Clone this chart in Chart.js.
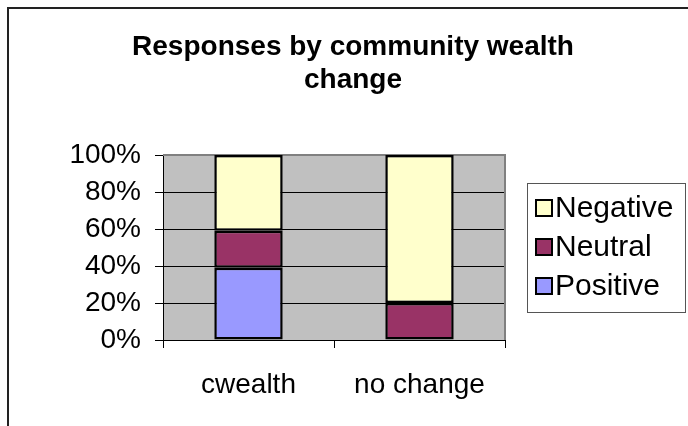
<!DOCTYPE html>
<html>
<head>
<meta charset="utf-8">
<script src="https://cdn.jsdelivr.net/npm/chart.js@4.4.1/dist/chart.umd.min.js"></script>
<style>
  html, body { margin: 0; padding: 0; background: #fff; }
  #wrap { width: 688px; height: 426px; position: relative; }
</style>
</head>
<body>
<div id="wrap"><canvas id="chart" width="688" height="426"></canvas></div>
<script>
// categories and stacked shares (percent of responses)
const categories = ['cwealth', 'no change'];
const positive = [39, 0];
const neutral = [20, 20];
const negative = [41, 80];
const yTicks = [0, 20, 40, 60, 80, 100];
const titleLines = ['Responses by community wealth', 'change'];

const FONT = '"Liberation Sans", Arial, sans-serif';

// gray plot background, outer frame, title and boxed legend
const excelLook = {
  id: 'excelLook',
  beforeDraw(chart) {
    const { ctx, chartArea: a } = chart;
    ctx.save();
    ctx.fillStyle = '#c0c0c0';
    ctx.fillRect(a.left, a.top, a.right - a.left, a.bottom - a.top);
    ctx.restore();
  },
  beforeDatasetsDraw(chart) {
    const { ctx, chartArea: a } = chart;
    ctx.save();
    ctx.strokeStyle = '#808080';
    ctx.lineWidth = 2;
    ctx.beginPath();
    ctx.moveTo(a.left, a.top);
    ctx.lineTo(a.right, a.top);
    ctx.lineTo(a.right, a.bottom);
    ctx.stroke();
    ctx.restore();
  },
  afterDraw(chart) {
    const ctx = chart.ctx;
    ctx.save();
    // outer frame
    ctx.strokeStyle = '#222';
    ctx.lineWidth = 2;
    ctx.beginPath();
    ctx.moveTo(8, 426);
    ctx.lineTo(8, 8);
    ctx.lineTo(688, 8);
    ctx.stroke();

    // title
    ctx.fillStyle = '#000';
    ctx.font = 'bold 28px ' + FONT;
    ctx.textAlign = 'center';
    ctx.textBaseline = 'alphabetic';
    titleLines.forEach((t, i) => ctx.fillText(t, 353, 55 + i * 33));

    // legend
    ctx.strokeStyle = '#555';
    ctx.lineWidth = 1;
    ctx.strokeRect(527.5, 183.5, 158, 129);
    ctx.font = '30px ' + FONT;
    ctx.textAlign = 'left';
    ctx.textBaseline = 'middle';
    const items = chart.data.datasets.slice().reverse();
    items.forEach((ds, i) => {
      const y = 208 + i * 39;
      ctx.fillStyle = ds.backgroundColor;
      ctx.fillRect(536, y - 8, 16, 16);
      ctx.strokeStyle = '#000';
      ctx.lineWidth = 2;
      ctx.strokeRect(536, y - 8, 16, 16);
      ctx.fillStyle = '#000';
      ctx.fillText(ds.label, 555, y + 1);
    });
    ctx.restore();
  }
};

const barStyle = { borderColor: '#000', borderWidth: 2.5, borderSkipped: false, barPercentage: 0.4, categoryPercentage: 1 };

new Chart(document.getElementById('chart'), {
  type: 'bar',
  data: {
    labels: categories,
    datasets: [
      { label: 'Positive', data: positive, backgroundColor: '#9999ff', ...barStyle },
      { label: 'Neutral', data: neutral, backgroundColor: '#993366', ...barStyle },
      { label: 'Negative', data: negative, backgroundColor: '#ffffcc', ...barStyle }
    ]
  },
  options: {
    responsive: false,
    animation: false,
    layout: { padding: { top: 155, right: 183, left: 0, bottom: 0 } },
    plugins: {
      legend: { display: false },
      title: { display: false },
      tooltip: { enabled: false }
    },
    scales: {
      x: {
        stacked: true,
        grid: { display: true, drawOnChartArea: false, drawTicks: true, tickLength: 8, color: '#000', offset: true },
        border: { display: true, color: '#000', width: 1 },
        ticks: { color: '#000', font: { family: FONT, size: 28 }, padding: 20, maxRotation: 0, autoSkip: false },
        afterFit(scale) { scale.height = 86; }
      },
      y: {
        stacked: true,
        min: 0,
        max: 100,
        afterBuildTicks(scale) { scale.ticks = yTicks.map(v => ({ value: v })); },
        grid: { color: '#000', lineWidth: 1, drawTicks: true, tickLength: 8 },
        border: { display: true, color: '#000', width: 1 },
        ticks: { color: '#000', font: { family: FONT, size: 28 }, padding: 14, callback: v => v + '%' },
        afterFit(scale) { scale.width = 163; }
      }
    }
  },
  plugins: [excelLook]
});
</script>
</body>
</html>
